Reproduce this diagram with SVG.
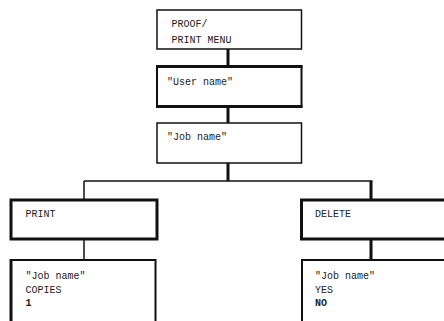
<svg xmlns="http://www.w3.org/2000/svg" width="444" height="321" viewBox="0 0 444 321">
<style>
.box{fill:#fff;stroke:#111}
.thin{stroke-width:1.5}
.mid{stroke-width:2}
.thick{stroke-width:3}
.t{font-family:"Liberation Mono","Courier New",monospace;font-size:10px;fill:#222}
.b{font-weight:bold}
.c{stroke:#111;fill:none}
</style>
<rect width="444" height="321" fill="#fff"/>
<g id="connectors">
<line class="c thick" x1="228" y1="49" x2="228" y2="66"/>
<line class="c thick" x1="228" y1="107" x2="228" y2="123"/>
<line class="c thick" x1="228" y1="163" x2="228" y2="181"/>
<line class="c thin" x1="84" y1="181" x2="372.5" y2="181"/>
<line class="c thin" x1="84" y1="181" x2="84" y2="200"/>
<line class="c thick" x1="371" y1="181" x2="371" y2="200"/>
<line class="c thin" x1="84" y1="239" x2="84" y2="260"/>
<line class="c thick" x1="371" y1="239" x2="371" y2="260"/>
</g>
<g id="proof-menu">
<rect class="box thin" x="157" y="10" width="144.5" height="39"/>
<text class="t" x="171.5" y="26.5">PROOF/</text>
<text class="t" x="171.5" y="42.5">PRINT MENU</text>
</g>
<g id="user-name">
<rect class="box mid" x="157" y="66.5" width="144.5" height="40"/>
<line class="c thick" x1="156" y1="66.5" x2="302.5" y2="66.5"/>
<line class="c thick" x1="156" y1="106.5" x2="302.5" y2="106.5"/>
<text class="t" x="167" y="84.5">"User name"</text>
</g>
<g id="job-name">
<rect class="box thin" x="157" y="123" width="144.5" height="40"/>
<text class="t" x="167" y="140">"Job name"</text>
</g>
<g id="print">
<rect class="box thick" x="11" y="200" width="146" height="39"/>
<text class="t" x="25.5" y="216.5">PRINT</text>
</g>
<g id="delete">
<rect class="box thick" x="301.5" y="200" width="150" height="39"/>
<text class="t" x="315" y="216.5">DELETE</text>
</g>
<g id="print-details">
<rect class="box mid" x="11" y="260" width="144.5" height="70"/>
<line class="c thick" x1="11" y1="259" x2="11" y2="321"/>
<text class="t" x="25.5" y="279">"Job name"</text>
<text class="t" x="25.5" y="292.5">COPIES</text>
<text class="t b" x="25.5" y="306">1</text>
</g>
<g id="delete-details">
<rect class="box mid" x="302" y="260" width="150" height="70"/>
<text class="t" x="315" y="279">"Job name"</text>
<text class="t" x="315" y="292.5">YES</text>
<text class="t b" x="315" y="306">NO</text>
</g>
</svg>
